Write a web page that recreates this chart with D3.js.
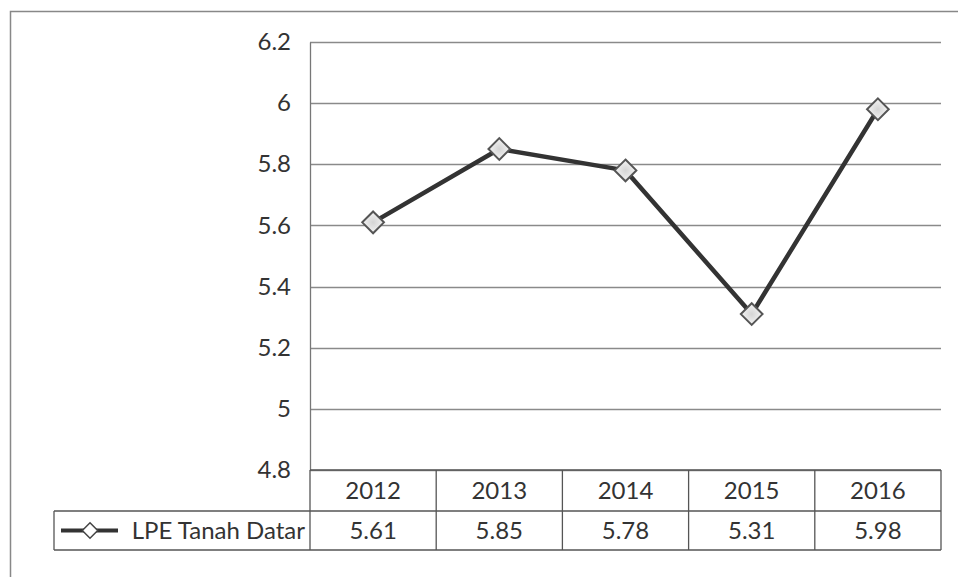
<!DOCTYPE html>
<html>
<head>
<meta charset="utf-8">
<script src="https://cdn.jsdelivr.net/npm/d3@7"></script>
<style>
  body { margin: 0; background: #fff; }
  svg { display: block; font-family: Lato, "Open Sans", sans-serif; }
</style>
</head>
<body>
<svg id="chart" width="958" height="577"></svg>
<script>
var years = ["2012", "2013", "2014", "2015", "2016"];
var values = [5.61, 5.85, 5.78, 5.31, 5.98];
var yTicks = [4.8, 5, 5.2, 5.4, 5.6, 5.8, 6, 6.2];
var seriesName = "LPE Tanah Datar";

var svg = d3.select("#chart");

var plot = { left: 310, right: 941, top: 42, bottom: 470 };
var rowH = [41, 39];
var fontSize = "24px";

// outer chart border
svg.append("rect")
    .attr("x", 10.5).attr("y", 11.5)
    .attr("width", 960).attr("height", 600)
    .attr("fill", "none")
    .attr("stroke", "#888")
    .attr("stroke-width", 1.5);

var x = d3.scaleBand()
    .domain(years)
    .range([plot.left, plot.right]);

var y = d3.scaleLinear()
    .domain([4.8, 6.2])
    .range([plot.bottom, plot.top]);

// gridlines
svg.append("g")
    .selectAll("line")
    .data(yTicks)
    .join("line")
    .attr("x1", plot.left)
    .attr("x2", plot.right)
    .attr("y1", function(d) { return Math.round(y(d)) + 0.5; })
    .attr("y2", function(d) { return Math.round(y(d)) + 0.5; })
    .attr("stroke", "#8a8a8a")
    .attr("stroke-width", 1.3);

// y axis
var yAxis = svg.append("g")
    .attr("transform", "translate(" + plot.left + ",0)")
    .call(d3.axisLeft(y).tickValues(yTicks).tickSize(0).tickPadding(19)
      .tickFormat(function(d) { return d3.format("")(+d.toFixed(1)); }));
yAxis.select(".domain").attr("stroke", "#777").attr("stroke-width", 1.3);
yAxis.selectAll("text")
    .attr("fill", "#333")
    .style("font-size", fontSize)
    .style("font-family", "Lato, 'Open Sans', sans-serif");

// data table
var tableTop = plot.bottom;
var row1 = tableTop + rowH[0];
var row2 = row1 + rowH[1];
var legendLeft = 54;

var tbl = svg.append("g")
    .attr("fill", "none")
    .attr("stroke", "#555")
    .attr("stroke-width", 1.3);

tbl.append("line").attr("x1", plot.left).attr("x2", plot.right).attr("y1", tableTop).attr("y2", tableTop);
tbl.append("line").attr("x1", legendLeft).attr("x2", plot.right).attr("y1", row1).attr("y2", row1);
tbl.append("line").attr("x1", legendLeft).attr("x2", plot.right).attr("y1", row2).attr("y2", row2);
tbl.append("line").attr("x1", legendLeft).attr("x2", legendLeft).attr("y1", row1).attr("y2", row2);
tbl.append("line").attr("x1", plot.right).attr("x2", plot.right).attr("y1", tableTop).attr("y2", row2);
tbl.selectAll("line.col")
    .data(years)
    .join("line")
    .attr("class", "col")
    .attr("x1", function(d) { return x(d); })
    .attr("x2", function(d) { return x(d); })
    .attr("y1", tableTop)
    .attr("y2", row2);

svg.append("g")
    .selectAll("text")
    .data(years)
    .join("text")
    .attr("x", function(d) { return x(d) + x.bandwidth() / 2; })
    .attr("y", tableTop + rowH[0] / 2 + 8)
    .attr("text-anchor", "middle")
    .attr("fill", "#333")
    .style("font-size", fontSize)
    .text(function(d) { return d; });

svg.append("g")
    .selectAll("text")
    .data(values)
    .join("text")
    .attr("x", function(d, i) { return x(years[i]) + x.bandwidth() / 2; })
    .attr("y", row1 + rowH[1] / 2 + 8)
    .attr("text-anchor", "middle")
    .attr("fill", "#333")
    .style("font-size", fontSize)
    .text(function(d) { return d.toFixed(2); });

// legend key
var diamond = d3.symbol().type(d3.symbolDiamond2);
var legY = row1 + rowH[1] / 2;
svg.append("line")
    .attr("x1", 61).attr("x2", 118)
    .attr("y1", legY).attr("y2", legY)
    .attr("stroke", "#333").attr("stroke-width", 4);
svg.append("path")
    .attr("d", diamond.size(150)())
    .attr("transform", "translate(90," + legY + ")")
    .attr("fill", "#fff")
    .attr("stroke", "#444")
    .attr("stroke-width", 1.5);
svg.append("text")
    .attr("x", 305)
    .attr("y", legY + 8)
    .attr("text-anchor", "end")
    .attr("fill", "#333")
    .style("font-size", fontSize)
    .text(seriesName);

// series line
var line = d3.line()
    .x(function(d, i) { return x(years[i]) + x.bandwidth() / 2; })
    .y(function(d) { return y(d); });

svg.append("path")
    .datum(values)
    .attr("d", line)
    .attr("fill", "none")
    .attr("stroke", "#333")
    .attr("stroke-width", 4.5)
    .attr("stroke-linejoin", "round");

// markers
var defs = svg.append("defs");
var grad = defs.append("radialGradient").attr("id", "mk");
grad.append("stop").attr("offset", "0%").attr("stop-color", "#d4d4d4");
grad.append("stop").attr("offset", "100%").attr("stop-color", "#f4f4f4");

svg.append("g")
    .selectAll("path")
    .data(values)
    .join("path")
    .attr("d", diamond.size(300)())
    .attr("transform", function(d, i) {
      return "translate(" + (x(years[i]) + x.bandwidth() / 2) + "," + y(d) + ")";
    })
    .attr("fill", "url(#mk)")
    .attr("stroke", "#555")
    .attr("stroke-width", 2);
</script>
</body>
</html>
